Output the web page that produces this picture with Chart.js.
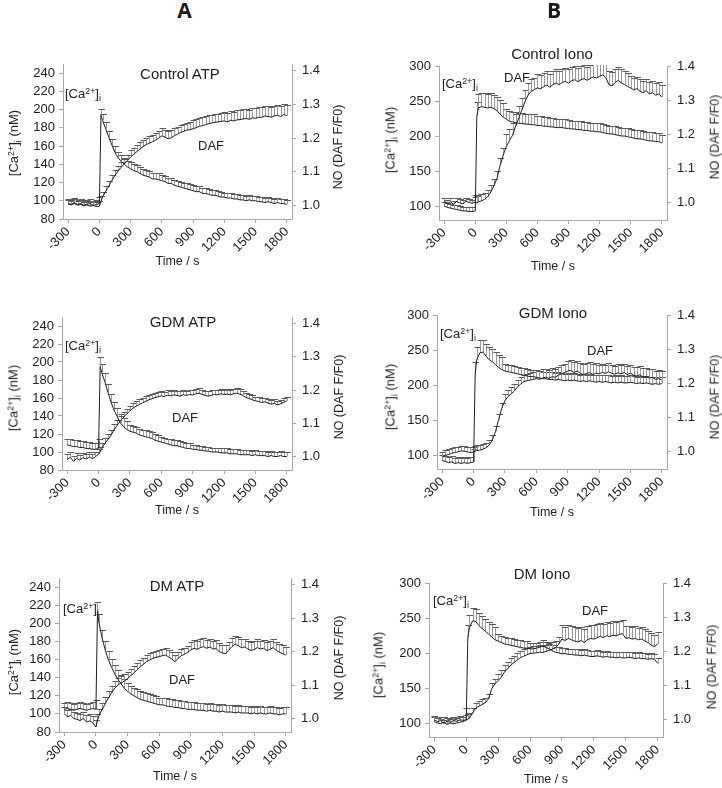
<!DOCTYPE html>
<html>
<head>
<meta charset="utf-8">
<script src="https://cdn.jsdelivr.net/npm/chart.js@4.4.1/dist/chart.umd.min.js"></script>
<style>
  html, body { margin: 0; padding: 0; background: #fff; }
  body { width: 722px; height: 788px; position: relative; overflow: hidden;
         font-family: "Liberation Sans", Arial, sans-serif; color: #222; }
  canvas { position: absolute; }
  .t { position: absolute; white-space: nowrap; line-height: 1; }
  .t sup { font-size: 68%; vertical-align: 0; position: relative; top: -0.5em; }
  .t sub { font-size: 68%; vertical-align: 0; position: relative; top: 0.3em; }
  .letter { font-family: "Open Sans", "DejaVu Sans", sans-serif; font-weight: 700; font-size: 21px; color: #1a1a1a; }
</style>
</head>
<body>
<script>
// ---------------- DATA ----------------
// sample times (s)
const times = [-300,-270,-240,-210,-180,-150,-120,-90,-60,-30,0,15,
  30,60,90,120,150,180,210,240,270,300,330,360,390,420,450,480,510,540,570,600,
  630,660,690,720,750,780,810,840,870,900,930,960,990,1020,1050,1080,1110,1140,1170,1200,
  1230,1260,1290,1320,1350,1380,1410,1440,1470,1500,1530,1560,1590,1620,1650,1680,1710,1740,1770,1800];

const xTickValues = [-300, 0, 300, 600, 900, 1200, 1500, 1800];
const caTicksATP = [80, 100, 120, 140, 160, 180, 200, 220, 240];
const caTicksIono = [100, 150, 200, 250, 300];
const dafTicks = [1.0, 1.1, 1.2, 1.3, 1.4];

// Column A: ATP
const caControlATP = [97,96,98,96,97,95,96,97,95,96,97, 194,
  188,179,170,161,153,147,143,140,137,135,
  133,132,130,128,127,126,124,124,123,122,
  121,119,119,117,116,115,114,113,112,111,
  110,110,108,108,107,106,106,105,104,104,
  103,103,102,102,101,101,100,101,100,100,
  99,99,98,99,98,97,98,97,97,96];
const dafControlATP = [1.004,1.002,1.006,1.001,1.003,0.999,1.002,0.998,1.000,0.997,0.998, 1.012,
  1.025,1.042,1.058,1.075,1.090,1.102,1.114,1.124,1.134,1.144,
  1.152,1.160,1.168,1.175,1.181,1.185,1.189,1.194,1.200,1.207,
  1.203,1.198,1.201,1.207,1.212,1.217,1.220,1.224,1.225,1.228,
  1.231,1.235,1.237,1.240,1.243,1.245,1.247,1.248,1.250,1.251,
  1.248,1.253,1.251,1.254,1.255,1.257,1.258,1.256,1.260,1.259,
  1.261,1.262,1.266,1.264,1.262,1.266,1.268,1.264,1.270,1.267];

const caGdmATP = [108,107,106,106,105,105,104,104,103,103,104, 195,
  188,178,166,155,146,139,132,128,125,123,
  122,121,119,118,117,116,115,113,112,111,
  110,109,108,107,107,106,105,104,104,103,
  103,102,102,101,101,100,100,100,99,99,
  99,98,98,98,97,97,97,97,96,97,
  96,96,96,95,96,95,95,96,95,95];
const dafGdmATP = [0.992,0.998,0.986,0.995,0.990,0.997,0.993,0.999,0.994,1.000,1.008, 1.015,
  1.025,1.040,1.052,1.065,1.082,1.095,1.108,1.119,1.129,1.138,
  1.146,1.152,1.157,1.162,1.166,1.171,1.174,1.178,1.180,1.183,
  1.181,1.185,1.183,1.186,1.184,1.182,1.186,1.184,1.187,1.186,
  1.189,1.191,1.187,1.184,1.182,1.185,1.187,1.186,1.189,1.187,
  1.188,1.186,1.189,1.191,1.188,1.184,1.178,1.175,1.171,1.168,
  1.166,1.163,1.165,1.161,1.158,1.160,1.156,1.159,1.163,1.168];

const caDmATP = [105,106,105,104,105,106,105,104,105,106,105, 213,
  200,183,170,159,151,144,138,133,128,125,
  122,120,118,116,115,114,113,112,111,110,
  110,109,108,108,107,107,106,106,105,105,
  105,104,104,104,103,104,103,103,102,103,
  102,102,102,101,102,101,101,101,100,101,
  100,101,100,100,101,100,100,99,100,100];
const dafDmATP = [1.015,1.005,1.010,1.000,0.998,0.994,1.000,0.990,0.993,0.988,0.975, 0.995,
  1.010,1.028,1.045,1.062,1.078,1.092,1.100,1.107,1.112,1.120,
  1.128,1.136,1.146,1.155,1.162,1.170,1.175,1.180,1.183,1.185,
  1.188,1.190,1.184,1.178,1.170,1.180,1.188,1.192,1.198,1.205,
  1.210,1.207,1.212,1.215,1.210,1.214,1.208,1.209,1.200,1.196,
  1.194,1.205,1.215,1.222,1.218,1.212,1.214,1.208,1.204,1.206,
  1.212,1.208,1.210,1.203,1.207,1.212,1.204,1.198,1.194,1.190];

// Column B: Iono
const caControlIono = [100,98,97,96,95,94,93,93,92,92,93, 228,
  240,242,241,240,241,239,236,231,227,224,
  221,220,219,218,218,217,217,216,216,215,
  215,214,214,213,213,212,212,212,211,211,
  210,210,209,209,208,208,207,207,206,206,
  205,204,203,203,202,201,200,200,199,198,
  197,196,196,195,194,193,193,192,192,190];
const dafControlIono = [1.005,0.998,1.003,0.996,1.004,1.000,0.997,1.005,1.001,0.999,1.002, 1.000,
  1.003,1.006,1.010,1.018,1.032,1.050,1.072,1.110,1.140,1.165,
  1.182,1.198,1.225,1.248,1.272,1.296,1.315,1.326,1.331,1.336,
  1.333,1.340,1.344,1.338,1.346,1.350,1.345,1.352,1.355,1.350,
  1.357,1.360,1.354,1.360,1.363,1.358,1.364,1.368,1.365,1.370,
  1.374,1.366,1.345,1.342,1.352,1.358,1.350,1.346,1.340,1.336,
  1.330,1.334,1.326,1.322,1.328,1.318,1.322,1.315,1.318,1.310];

const caGdmIono = [92,91,89,90,88,89,88,89,88,89,90, 215,
  236,246,247,241,236,233,229,225,222,220,
  219,218,217,216,215,214,213,212,212,211,
  210,209,209,208,208,207,208,207,206,207,
  206,207,206,205,206,205,206,205,204,205,
  204,205,204,203,204,203,204,203,203,204,
  203,202,203,202,203,202,201,202,201,202];
const dafGdmIono = [0.985,0.990,0.992,0.996,0.998,1.000,1.003,1.002,1.000,0.998,1.000, 1.002,
  1.004,1.005,1.008,1.012,1.020,1.035,1.060,1.095,1.128,1.150,
  1.162,1.170,1.178,1.190,1.198,1.205,1.208,1.210,1.212,1.214,
  1.212,1.216,1.218,1.215,1.220,1.218,1.224,1.228,1.232,1.236,
  1.238,1.232,1.236,1.230,1.226,1.229,1.232,1.226,1.230,1.228,
  1.232,1.229,1.234,1.230,1.227,1.231,1.228,1.232,1.226,1.230,
  1.224,1.222,1.225,1.219,1.220,1.216,1.218,1.212,1.214,1.210];

const caDmIono = [102,100,99,101,98,100,99,100,101,102,104, 222,
  236,246,245,239,235,231,227,223,219,217,
  215,213,212,211,210,209,208,207,207,206,
  206,207,208,210,208,206,203,201,200,199,
  199,198,198,197,197,196,197,196,195,195,
  196,195,194,195,194,194,193,194,193,193,
  194,193,192,193,192,192,191,192,191,185];
const dafDmIono = [1.000,0.995,0.998,0.990,0.996,0.993,0.998,0.996,1.000,0.999,1.000, 1.002,
  1.005,1.020,1.035,1.040,1.045,1.050,1.062,1.092,1.105,1.115,
  1.125,1.140,1.150,1.160,1.168,1.175,1.182,1.186,1.190,1.194,
  1.195,1.196,1.198,1.197,1.200,1.203,1.207,1.210,1.222,1.236,
  1.232,1.238,1.234,1.230,1.228,1.232,1.226,1.234,1.238,1.236,
  1.240,1.244,1.240,1.246,1.243,1.248,1.245,1.250,1.252,1.238,
  1.240,1.236,1.238,1.234,1.236,1.230,1.226,1.218,1.214,1.222];

// upper error (SEM) per 300-s segment: [-300,0) [0,300) [300,600) [600,900) [900,1200) [1200,1500) [1500,1800]
const errCaControlATP  = [5, 7, 7, 6, 6, 5, 5];
const errDafControlATP = [0.012, 0.015, 0.02, 0.022, 0.025, 0.028, 0.03];
const errCaGdmATP      = [7, 10, 7, 6, 5, 5, 5];
const errDafGdmATP     = [0.015, 0.015, 0.015, 0.015, 0.015, 0.015, 0.012];
const errCaDmATP       = [7, 10, 9, 8, 8, 8, 8];
const errDafDmATP      = [0.02, 0.02, 0.02, 0.02, 0.025, 0.025, 0.025];
const errCaControlIono  = [6, 20, 15, 13, 12, 12, 12];
const errDafControlIono = [0.01, 0.02, 0.035, 0.04, 0.04, 0.04, 0.035];
const errCaGdmIono      = [8, 18, 10, 10, 10, 10, 10];
const errDafGdmIono     = [0.015, 0.015, 0.02, 0.025, 0.03, 0.025, 0.025];
const errCaDmIono       = [7, 18, 10, 8, 8, 8, 8];
const errDafDmIono      = [0.01, 0.015, 0.02, 0.02, 0.04, 0.04, 0.035];

// ---------------- LAYOUT ----------------
const FONT = '"Liberation Sans", Arial, sans-serif';
const TXT = '#222';
const AXIS = '#a8a8a8';
const caTitle = '[Ca<sup>2+</sup>]<sub>i</sub> (nM)';
const caLabel = '[Ca<sup>2+</sup>]<sub>i</sub>';

const panels = [
  { title: 'Control ATP', ca: caControlATP, daf: dafControlATP, eCa: errCaControlATP, eDaf: errDafControlATP,
    caRange: [80, 250], caTicks: caTicksATP, dafRange: [0.96, 1.42],
    box: [0, 30, 361, 270], area: [63, 64, 292, 219], xTitleY: 262,
    titlePos: [180, 73], caLab: [65, 93], dafLab: [211, 145], lTitle: [13, 143], rTitle: [338, 147] },
  { title: 'GDM ATP', ca: caGdmATP, daf: dafGdmATP, eCa: errCaGdmATP, eDaf: errDafGdmATP,
    caRange: [80, 250], caTicks: caTicksATP, dafRange: [0.96, 1.42],
    box: [0, 300, 361, 245], area: [62, 317, 292, 470], xTitleY: 511,
    titlePos: [183, 321], caLab: [65, 345], dafLab: [185, 417], lTitle: [13, 398], rTitle: [339, 397] },
  { title: 'DM ATP', ca: caDmATP, daf: dafDmATP, eCa: errCaDmATP, eDaf: errDafDmATP,
    caRange: [80, 250], caTicks: caTicksATP, dafRange: [0.96, 1.42],
    box: [0, 545, 361, 243], area: [59, 578, 291, 732], xTitleY: 777,
    titlePos: [177, 585], caLab: [63, 608], dafLab: [182, 679], lTitle: [13, 662], rTitle: [339, 658] },
  { title: 'Control Iono', ca: caControlIono, daf: dafControlIono, eCa: errCaControlIono, eDaf: errDafControlIono,
    caRange: [80, 300], caTicks: caTicksIono, dafRange: [0.95, 1.40],
    box: [361, 30, 361, 270], area: [439, 66, 667, 220], xTitleY: 267,
    titlePos: [552, 53], caLab: [442, 83], dafLab: [517, 77], lTitle: [390, 140], rTitle: [715, 137] },
  { title: 'GDM Iono', ca: caGdmIono, daf: dafGdmIono, eCa: errCaGdmIono, eDaf: errDafGdmIono,
    caRange: [80, 300], caTicks: caTicksIono, dafRange: [0.95, 1.40],
    box: [361, 300, 361, 245], area: [437, 315, 667, 469], xTitleY: 513,
    titlePos: [553, 312], caLab: [440, 333], dafLab: [600, 350], lTitle: [390, 397], rTitle: [715, 397] },
  { title: 'DM Iono', ca: caDmIono, daf: dafDmIono, eCa: errCaDmIono, eDaf: errDafDmIono,
    caRange: [80, 300], caTicks: caTicksIono, dafRange: [0.95, 1.40],
    box: [361, 545, 361, 243], area: [429, 583, 663, 737], xTitleY: 780,
    titlePos: [542, 573], caLab: [433, 600], dafLab: [595, 610], lTitle: [378, 665], rTitle: [712, 667] }
];

function segmentOf(t) { return Math.max(0, Math.min(6, Math.floor((t + 300) / 300))); }

const errorBars = {
  id: 'errorBars',
  beforeDatasetsDraw(chart) {
    const { ctx, chartArea: a, scales } = chart;
    ctx.save();
    ctx.beginPath();
    ctx.rect(a.left, a.top - 1, a.right - a.left, a.bottom - a.top + 1);
    ctx.clip();
    ctx.lineWidth = 1;
    chart.data.datasets.forEach(ds => {
      const ys = scales[ds.yAxisID];
      ds.data.forEach(p => {
        const e = ds.errors[segmentOf(p.x)];
        const px = Math.round(scales.x.getPixelForValue(p.x)) + 0.5;
        const y0 = ys.getPixelForValue(p.y);
        const y1 = Math.round(ys.getPixelForValue(p.y + e)) + 0.5;
        ctx.strokeStyle = '#9a9a9a';
        ctx.beginPath(); ctx.moveTo(px, y0); ctx.lineTo(px, y1); ctx.stroke();
        ctx.strokeStyle = '#5a5a5a';
        ctx.beginPath(); ctx.moveTo(px - 3, y1); ctx.lineTo(px + 3.5, y1); ctx.stroke();
      });
    });
    ctx.restore();
  }
};

function addText(html, x, y, cls, style, anchor) {
  const d = document.createElement('div');
  d.className = 't ' + (cls || '');
  d.innerHTML = html;
  d.style.left = x + 'px';
  d.style.top = y + 'px';
  Object.assign(d.style, style || {});
  d.style.transform = anchor || 'translate(-50%,-50%)';
  document.body.appendChild(d);
}

panels.forEach(p => {
  const [bx, by, bw, bh] = p.box;
  const [al, at, ar, ab] = p.area;
  const cv = document.createElement('canvas');
  cv.width = bw; cv.height = bh;
  cv.style.left = bx + 'px'; cv.style.top = by + 'px';
  cv.style.width = bw + 'px'; cv.style.height = bh + 'px';
  document.body.appendChild(cv);

  const leftW = al - bx, rightW = bx + bw - ar, bottomH = by + bh - ab;
  const xTitlePad = Math.max(0, (by + bh) - p.xTitleY - 7.5);
  const tickFont = { family: FONT, size: 13 };

  new Chart(cv.getContext('2d'), {
    type: 'line',
    data: {
      datasets: [
        { label: '[Ca2+]i', data: times.map((t, i) => ({ x: t, y: p.ca[i] })), errors: p.eCa,
          yAxisID: 'yL', borderColor: '#1c1c1c', borderWidth: 1, pointRadius: 0, tension: 0, fill: false },
        { label: 'DAF', data: times.map((t, i) => ({ x: t, y: p.daf[i] })), errors: p.eDaf,
          yAxisID: 'yR', borderColor: '#1c1c1c', borderWidth: 1, pointRadius: 0, tension: 0, fill: false }
      ]
    },
    options: {
      responsive: false,
      animation: false,
      devicePixelRatio: 1,
      layout: { padding: { top: at - by, left: 0, right: 0, bottom: 0 } },
      plugins: { legend: { display: false }, tooltip: { enabled: false }, title: { display: false } },
      scales: {
        x: {
          type: 'linear', min: -350, max: 1850,
          afterBuildTicks: s => { s.ticks = xTickValues.map(v => ({ value: v })); },
          afterFit: s => { s.height = bottomH; },
          ticks: { minRotation: 45, maxRotation: 45, autoSkip: false, font: tickFont, color: TXT, padding: 1,
                   callback: v => String(v) },
          grid: { drawOnChartArea: false, drawTicks: true, tickLength: 4, color: AXIS },
          border: { display: true, color: AXIS },
          title: { display: true, text: 'Time / s', color: TXT, font: { family: FONT, size: 12.5 },
                   padding: { top: 0, bottom: xTitlePad } }
        },
        yL: {
          type: 'linear', position: 'left', min: p.caRange[0], max: p.caRange[1],
          afterBuildTicks: s => { s.ticks = p.caTicks.map(v => ({ value: v })); },
          afterFit: s => { s.width = leftW; },
          ticks: { font: tickFont, color: TXT, padding: 4, callback: v => String(v) },
          grid: { drawOnChartArea: false, drawTicks: true, tickLength: 4, color: AXIS },
          border: { display: true, color: AXIS }
        },
        yR: {
          type: 'linear', position: 'right', min: p.dafRange[0], max: p.dafRange[1],
          afterBuildTicks: s => { s.ticks = dafTicks.map(v => ({ value: v })); },
          afterFit: s => { s.width = rightW; },
          ticks: { font: tickFont, color: TXT, padding: 6, callback: v => Number(v).toFixed(1) },
          grid: { drawOnChartArea: false, drawTicks: true, tickLength: 4, color: AXIS },
          border: { display: true, color: AXIS }
        }
      }
    },
    plugins: [errorBars]
  });

  addText(p.title, p.titlePos[0], p.titlePos[1], '', { fontSize: '15px' });
  addText(caLabel, p.caLab[0], p.caLab[1], '', { fontSize: '13px' }, 'translate(0,-50%)');
  addText('DAF', p.dafLab[0], p.dafLab[1], '', { fontSize: '13px' });
  addText(caTitle, p.lTitle[0], p.lTitle[1], '', { fontSize: '13px' }, 'translate(-50%,-50%) rotate(-90deg)');
  addText('NO (DAF F/F0)', p.rTitle[0], p.rTitle[1], '', { fontSize: '12.5px' }, 'translate(-50%,-50%) rotate(-90deg)');
});

addText('A', 184.5, 10, 'letter');
addText('B', 554, 10, 'letter');
</script>
</body>
</html>
